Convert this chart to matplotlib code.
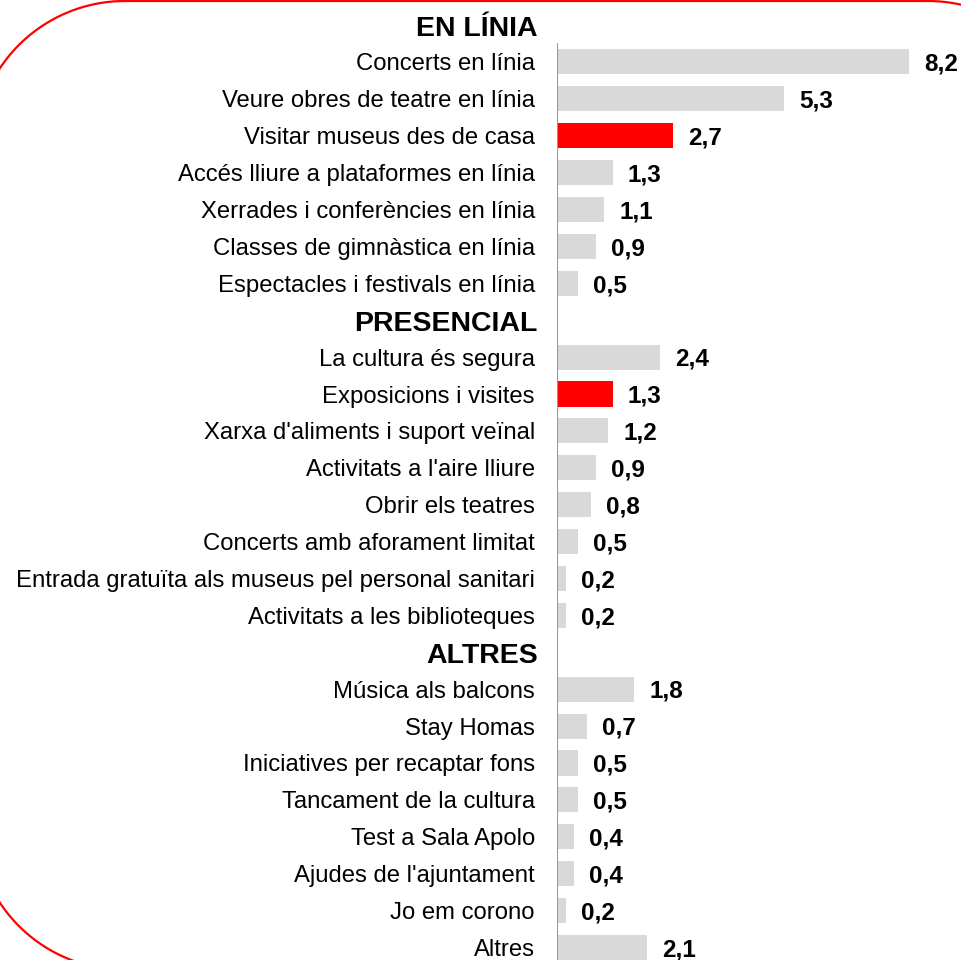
import matplotlib
matplotlib.use("Agg")
import numpy as np
import matplotlib.pyplot as plt
from matplotlib.lines import Line2D

plt.rcParams["font.family"] = ["Liberation Sans", "DejaVu Sans"]

# ---------- Data ----------
groups = ["EN LÍNIA", "PRESENCIAL", "ALTRES"]

online_labels = [
    "Concerts en línia",
    "Veure obres de teatre en línia",
    "Visitar museus des de casa",
    "Accés lliure a plataformes en línia",
    "Xerrades i conferències en línia",
    "Classes de gimnàstica en línia",
    "Espectacles i festivals en línia",
]
online_values = [8.2, 5.3, 2.7, 1.3, 1.1, 0.9, 0.5]

presencial_labels = [
    "La cultura és segura",
    "Exposicions i visites",
    "Xarxa d'aliments i suport veïnal",
    "Activitats a l'aire lliure",
    "Obrir els teatres",
    "Concerts amb aforament limitat",
    "Entrada gratuïta als museus pel personal sanitari",
    "Activitats a les biblioteques",
]
presencial_values = [2.4, 1.3, 1.2, 0.9, 0.8, 0.5, 0.2, 0.2]

altres_labels = [
    "Música als balcons",
    "Stay Homas",
    "Iniciatives per recaptar fons",
    "Tancament de la cultura",
    "Test a Sala Apolo",
    "Ajudes de l'ajuntament",
    "Jo em corono",
    "Altres",
]
altres_values = [1.8, 0.7, 0.5, 0.5, 0.4, 0.4, 0.2, 2.1]

highlighted = ["Visitar museus des de casa", "Exposicions i visites"]

GRAY = "#D9D9D9"
RED = "#FF0000"

# ---------- Build rows (header rows have no bar) ----------
rows = []  # (label, value or None)
for name, labels, values in zip(groups,
                                [online_labels, presencial_labels, altres_labels],
                                [online_values, presencial_values, altres_values]):
    rows.append((name, None))
    rows.extend(zip(labels, values))

W, H = 962, 960
fig = plt.figure(figsize=(W / 100, H / 100), dpi=100)

row_h = 36.9
first_y = 25
x0, px_per_unit = 557, 42.9
ax = fig.add_axes([x0 / W, 0, 1 - x0 / W, 1])
ax.set_xlim(0, (W - x0) / px_per_unit)
ax.set_ylim((H - first_y) / row_h, -first_y / row_h)

for i, (label, val) in enumerate(rows):
    if val is None:
        ax.text(-19 / px_per_unit, i + 0.1, label, ha="right", va="center",
                fontsize=20.5, fontweight="bold")
        continue
    color = RED if label in highlighted else GRAY
    ax.barh(i, val, height=0.68, color=color, edgecolor="none")
    ax.text(val + 15 / px_per_unit, i + 0.06, f"{val:.1f}".replace(".", ","),
            ha="left", va="center", fontsize=17.5, fontweight="bold")

item_idx = [i for i, r in enumerate(rows) if r[1] is not None]
ax.set_yticks(item_idx)
ax.set_yticklabels([rows[i][0] for i in item_idx], fontsize=17.2)
ax.tick_params(axis="y", length=0, pad=16)
ax.set_xticks([])
for s in ax.spines.values():
    s.set_visible(False)

# vertical axis line starting under the first header
ax.plot([0, 0], [0.49, len(rows) + 1], color="#999999", lw=1.5,
        solid_capstyle="butt")

# red rounded frame, partly outside the picture (pixel coords, y from top)
left, right, top, bottom, r = -25, 1078, 1, 970, 150
t = np.linspace(0, np.pi / 2, 40)
corners = [
    (right - r, top + r, np.pi / 2 - t),          # top-right
    (right - r, bottom - r, -t),                  # bottom-right
    (left + r, bottom - r, -np.pi / 2 - t),       # bottom-left
    (left + r, top + r, np.pi - t),               # top-left
]
xs, ys = [], []
for cx, cy, ang in corners:
    xs.extend(cx + r * np.cos(ang))
    ys.extend(cy - r * np.sin(ang))
xs.append(xs[0])
ys.append(ys[0])
xs = np.array(xs) / W
ys = 1 - np.array(ys) / H
fig.lines.append(Line2D(xs, ys, transform=fig.transFigure, color=RED, lw=1.6))

fig.savefig("out.png", dpi=100)
